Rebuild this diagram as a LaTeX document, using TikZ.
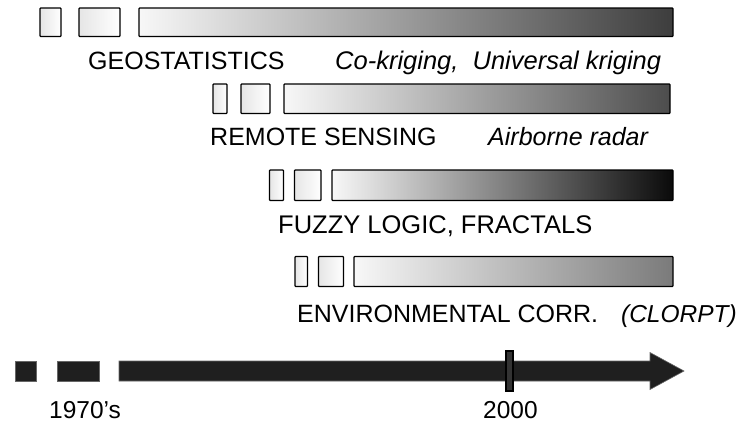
\documentclass[tikz,border=0pt]{standalone}
\usepackage{fontspec}
\setmainfont{Liberation Sans}
\usetikzlibrary{positioning}

\begin{document}
\begin{tikzpicture}[x=1pt, y=-1pt,
    lbl/.style={anchor=base west, inner sep=0pt, font=\fontsize{25}{30}\selectfont},
    note/.style={lbl, font=\fontsize{#1}{30}\selectfont\itshape},
    yr/.style={lbl, font=\fontsize{24.5}{29}\selectfont},
    tab/.style={draw=black, line width=1.3pt, rounded corners=0.8pt, left color=black!10, right color=white},
    band/.style={draw=black, line width=1.3pt, rounded corners=0.8pt, left color=black!3, right color=#1},
    blk/.style={fill=black!88, draw=black!60, line width=0.6pt}]
    \useasboundingbox (0,0) rectangle (739,424);

    % geostatistics
    \path[tab] (40,8) rectangle (61,36.5);
    \path[tab] (79,8) rectangle (120,36.5);
    \path[band=black!76] (139,8) rectangle (673,36.5);
    \node[lbl] (geo) at (88,69) {GEOSTATISTICS};
    \node[note=25.5] (krig) at (335,69) {Co-kriging,\ \ Universal kriging};

    % remote sensing
    \path[tab] (213,84) rectangle (227,113.5);
    \path[tab] (241,84) rectangle (270,113.5);
    \path[band=black!70] (284,84) rectangle (670,113.5);
    \node[lbl] (rs) at (210,145) {REMOTE SENSING};
    \node[note=25] (radar) at (488,145) {Airborne radar};

    % fuzzy logic
    \path[tab] (269.5,170) rectangle (283.5,200.5);
    \path[tab] (294.5,170) rectangle (321,200.5);
    \path[band=black!96] (332,170) rectangle (673,200.5);
    \node[lbl, font=\fontsize{25.5}{30}\selectfont] (fuzzy) at (278,233) {FUZZY LOGIC, FRACTALS};

    % environmental correlation
    \path[tab] (295,256.5) rectangle (307.5,286.5);
    \path[tab] (318.5,256.5) rectangle (343.5,286.5);
    \path[band=black!52] (354,256.5) rectangle (673,286.5);
    \node[lbl] (env) at (297,322) {ENVIRONMENTAL CORR.};
    \node[note=24.5, anchor=base east] (clorpt) at (737,322) {(CLORPT)};

    % time axis
    \path[blk] (15,361) rectangle (36,381);
    \path[blk] (57,361) rectangle (99,381);
    \path[blk] (119,361) -- (650,361) -- (650,352.5) -- (684,371)
        -- (650,389.5) -- (650,381) -- (119,381) -- cycle;
    \draw[fill=black!80, line width=1.2pt] (506,351) rectangle (513,391);
    \node[yr] (y70) at (49,418) {1970's};
    \node[yr] (y00) at (483,418) {2000};
\end{tikzpicture}
\end{document}
